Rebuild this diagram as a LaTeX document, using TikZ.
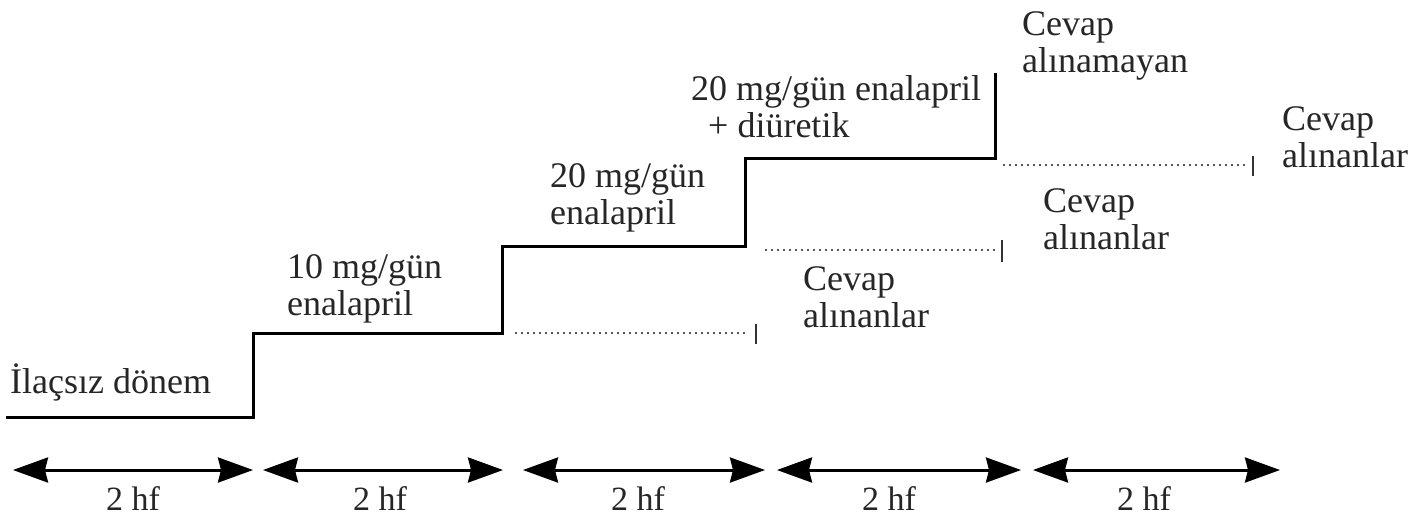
\documentclass[tikz,border=0pt]{standalone}
\usepackage{fontspec}
\setmainfont{Liberation Serif}
\usetikzlibrary{arrows.meta}
\tikzset{hftip/.tip={Stealth[length=35pt,width=25pt,inset=3pt]}}
\begin{document}
\begin{tikzpicture}[x=1pt,y=-1pt,
  stair/.style={line width=3pt, line join=miter},
  resp/.style={line width=1.8pt, dash pattern=on 1.6pt off 4.4pt, black!65},
  endbar/.style={line width=2.8pt, black!80},
  period/.style={line width=3pt, {hftip}-{hftip}},
  lbl/.style={font=\fontsize{36}{37}\selectfont, inner sep=0pt, align=left, anchor=base west, text=black!85},
  hf/.style={font=\fontsize{34}{36}\selectfont, inner sep=0pt, anchor=base, text=black!85}]
  \useasboundingbox[fill=white] (0,0) rectangle (1426,523);

  % dose staircase
  \coordinate (s0) at (6,417);
  \coordinate (s1) at (253,417);
  \coordinate (s2) at (253,333);
  \coordinate (s3) at (502,333);
  \coordinate (s4) at (502,246);
  \coordinate (s5) at (745,246);
  \coordinate (s6) at (745,158);
  \coordinate (s7) at (995,158);
  \coordinate (s8) at (995,73);
  \draw[stair] (s0) -- (s1) -- (s2) -- (s3) -- (s4) -- (s5) -- (s6) -- (s7) -- (s8);

  % responders continue at the same dose
  \coordinate (r1a) at (515,333);
  \coordinate (r1b) at (745,333);
  \coordinate (t1a) at (756,324);
  \coordinate (t1b) at (756,344);
  \draw[resp] (r1a) -- (r1b);
  \draw[endbar] (t1a) -- (t1b);

  \coordinate (r2a) at (765,250);
  \coordinate (r2b) at (998,250);
  \coordinate (t2a) at (1002,240);
  \coordinate (t2b) at (1002,262);
  \draw[resp] (r2a) -- (r2b);
  \draw[endbar] (t2a) -- (t2b);

  \coordinate (r3a) at (1003,165);
  \coordinate (r3b) at (1248,165);
  \coordinate (t3a) at (1253,156);
  \coordinate (t3b) at (1253,176);
  \draw[resp] (r3a) -- (r3b);
  \draw[endbar] (t3a) -- (t3b);

  % phase labels (multi-line labels sit on the baseline of their last line)
  \node[lbl] (ilac) at (10,393) {İlaçsız dönem};
  \node[lbl] (ten) at (287,315) {10 mg/gün\\enalapril};
  \node[lbl] (twenty) at (550,224) {20 mg/gün\\enalapril};
  \node[lbl] (twentyd) at (691,137) {20 mg/gün enalapril\\\hspace*{17pt}+ diüretik};
  \node[lbl] (nonresp) at (1022,72) {Cevap\\alınamayan};
  \node[lbl] (respR) at (1282,167) {Cevap\\alınanlar};
  \node[lbl] (respM) at (1043,249) {Cevap\\alınanlar};
  \node[lbl] (respL) at (803,327) {Cevap\\alınanlar};

  % two-week periods
  \coordinate (p0a) at (13,470);   \coordinate (p0b) at (253,470);
  \coordinate (p1a) at (263,470);  \coordinate (p1b) at (503,470);
  \coordinate (p2a) at (523,470);  \coordinate (p2b) at (765,470);
  \coordinate (p3a) at (777,470);  \coordinate (p3b) at (1021,470);
  \coordinate (p4a) at (1033,470); \coordinate (p4b) at (1280,470);
  \draw[period] (p0a) -- (p0b);
  \draw[period] (p1a) -- (p1b);
  \draw[period] (p2a) -- (p2b);
  \draw[period] (p3a) -- (p3b);
  \draw[period] (p4a) -- (p4b);
  \node[hf] (hf0) at (133,510) {2 hf};
  \node[hf] (hf1) at (380,510) {2 hf};
  \node[hf] (hf2) at (638,510) {2 hf};
  \node[hf] (hf3) at (889,510) {2 hf};
  \node[hf] (hf4) at (1144,510) {2 hf};
\end{tikzpicture}
\end{document}
